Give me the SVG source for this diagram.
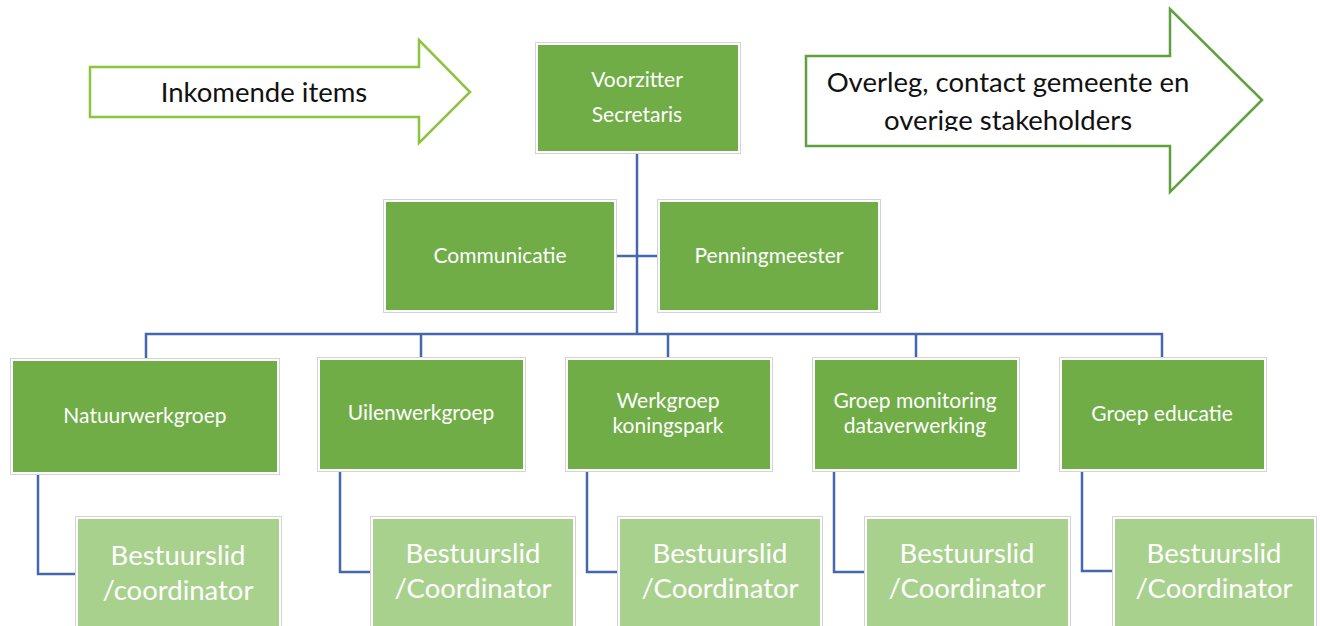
<svg xmlns="http://www.w3.org/2000/svg" width="1320" height="626" viewBox="0 0 1320 626">
<style>
.out{fill:#ffffff;stroke:#d4d4d4;stroke-width:1}
.dk{fill:#70ad47}
.lt{fill:#a9d18e}
.t{font-family:Lato,"Liberation Sans",sans-serif;fill:#ffffff;text-anchor:middle}
.s{font-size:21px}
.b{font-size:27.5px}
.c{fill:none;stroke:#4667ab;stroke-width:2.5}
.at{font-family:Lato,"Liberation Sans",sans-serif;fill:#111111;text-anchor:middle;font-size:27.5px}
</style>
<defs>
<clipPath id="clip2"><rect x="800" y="56" width="420" height="75"/></clipPath>
</defs>
<rect width="1320" height="626" fill="#ffffff"/>
<g id="arrow-in">
<polygon points="90,67 419,67 419,40 470,92 419,143 419,117 90,117" fill="#ffffff" stroke="#8cc43f" stroke-width="2.5"/>
<text class="at" x="264" y="102">Inkomende items</text>
</g>
<g id="arrow-out">
<polygon points="806,56 1170,56 1170,9 1262,100 1170,192 1170,146 806,146" fill="#ffffff" stroke="#5ea13e" stroke-width="2.5"/>
<g clip-path="url(#clip2)">
<text class="at" x="1008" y="92">Overleg, contact gemeente en</text>
<text class="at" x="1008" y="130">overige stakeholders</text>
</g>
</g>
<g id="connectors">
<path class="c" d="M637,153 V334"/>
<path class="c" d="M616,256 H657"/>
<path class="c" d="M146,358 V334 H1162 V358"/>
<path class="c" d="M421,334 V358 M668,334 V358 M916,334 V358"/>
<path class="c" d="M38,474 V574 H76"/>
<path class="c" d="M340,471 V572 H371"/>
<path class="c" d="M587,471 V572 H618"/>
<path class="c" d="M834,471 V572 H865"/>
<path class="c" d="M1082,471 V571 H1113"/>
</g>
<g id="voorzitter">
<rect class="out" x="535.5" y="42.5" width="205" height="111"/>
<rect class="dk" x="538" y="45" width="200" height="106"/>
<text class="t s" x="637" y="87">Voorzitter</text>
<text class="t s" x="637" y="122">Secretaris</text>
</g>
<g id="communicatie">
<rect class="out" x="383.5" y="199.5" width="233" height="113"/>
<rect class="dk" x="386" y="202" width="228" height="108"/>
<text class="t s" x="500" y="263">Communicatie</text>
</g>
<g id="penningmeester">
<rect class="out" x="657.5" y="199.5" width="223" height="113"/>
<rect class="dk" x="660" y="202" width="218" height="108"/>
<text class="t s" x="769" y="263">Penningmeester</text>
</g>
<g id="natuurwerkgroep">
<rect class="out" x="10.5" y="358.5" width="269" height="116"/>
<rect class="dk" x="13" y="361" width="264" height="111"/>
<text class="t s" x="145" y="423">Natuurwerkgroep</text>
</g>
<g id="uilenwerkgroep">
<rect class="out" x="317.5" y="357.5" width="208" height="114"/>
<rect class="dk" x="320" y="360" width="203" height="109"/>
<text class="t s" x="421" y="420">Uilenwerkgroep</text>
</g>
<g id="werkgroep-koningspark">
<rect class="out" x="565.5" y="357.5" width="207" height="114"/>
<rect class="dk" x="568" y="360" width="202" height="109"/>
<text class="t s" x="668" y="408">Werkgroep</text>
<text class="t s" x="668" y="433">koningspark</text>
</g>
<g id="groep-monitoring">
<rect class="out" x="812.5" y="357.5" width="207" height="114"/>
<rect class="dk" x="815" y="360" width="202" height="109"/>
<text class="t s" x="915" y="408">Groep monitoring</text>
<text class="t s" x="915" y="433">dataverwerking</text>
</g>
<g id="groep-educatie">
<rect class="out" x="1059.5" y="357.5" width="207" height="114"/>
<rect class="dk" x="1062" y="360" width="202" height="109"/>
<text class="t s" x="1162" y="421">Groep educatie</text>
</g>
<g id="bestuurslid-1">
<rect class="out" x="75.5" y="516.5" width="206" height="130"/>
<rect class="lt" x="78" y="519" width="201" height="125"/>
<text class="t b" x="178" y="565">Bestuurslid</text>
<text class="t b" x="178" y="600">/coordinator</text>
</g>
<g id="bestuurslid-2">
<rect class="out" x="370.5" y="516.5" width="205" height="130"/>
<rect class="lt" x="373" y="519" width="200" height="125"/>
<text class="t b" x="473" y="563">Bestuurslid</text>
<text class="t b" x="473" y="598">/Coordinator</text>
</g>
<g id="bestuurslid-3">
<rect class="out" x="617.5" y="516.5" width="205" height="130"/>
<rect class="lt" x="620" y="519" width="200" height="125"/>
<text class="t b" x="720" y="563">Bestuurslid</text>
<text class="t b" x="720" y="598">/Coordinator</text>
</g>
<g id="bestuurslid-4">
<rect class="out" x="864.5" y="516.5" width="206" height="130"/>
<rect class="lt" x="867" y="519" width="201" height="125"/>
<text class="t b" x="967" y="563">Bestuurslid</text>
<text class="t b" x="967" y="598">/Coordinator</text>
</g>
<g id="bestuurslid-5">
<rect class="out" x="1112.5" y="516.5" width="204" height="130"/>
<rect class="lt" x="1115" y="519" width="199" height="125"/>
<text class="t b" x="1214" y="563">Bestuurslid</text>
<text class="t b" x="1214" y="598">/Coordinator</text>
</g>
</svg>
